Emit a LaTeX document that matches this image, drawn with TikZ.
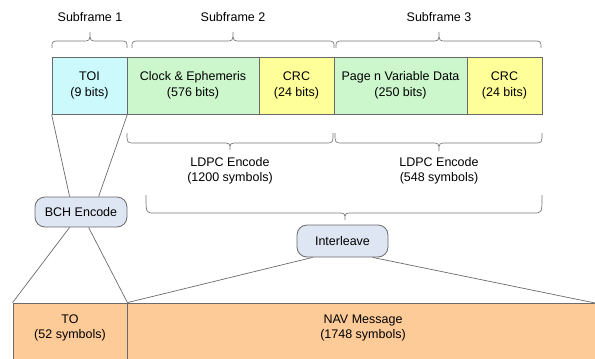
\documentclass[tikz,border=0pt]{standalone}
\usepackage{fontspec}
\setmainfont{Liberation Sans}
\definecolor{cyanf}{HTML}{CCFAFC}
\definecolor{greenf}{HTML}{CCF7CC}
\definecolor{yellowf}{HTML}{FFFF99}
\definecolor{orangef}{HTML}{FDCB98}
\definecolor{procfill}{HTML}{DFE6F3}
\definecolor{linegray}{HTML}{6A6A6A}
\definecolor{bracegray}{HTML}{777777}
\newcommand{\drawbrace}[6]{%
  \draw[bracestyle] (#1,#4) .. controls (#1,#5) .. (#1+8,#5) -- (#3-8,#5)
    .. controls (#3,#5) .. (#3,#6) .. controls (#3,#5) .. (#3+8,#5) -- (#2-8,#5)
    .. controls (#2,#5) .. (#2,#4);}
\begin{document}
\begin{tikzpicture}[x=1pt,y=-1pt,font=\fontsize{12.5}{15.5}\selectfont]
\tikzset{
  field/.style={draw=linegray, line width=0.8pt, minimum height=57pt, inner sep=0pt, align=center},
  bottombox/.style={draw=linegray, fill=orangef, line width=0.8pt, minimum height=64pt, inner sep=0pt},
  proc/.style={draw=linegray, fill=procfill, rounded corners=10pt, line width=0.8pt, inner sep=0pt, align=center},
  link/.style={draw=linegray, line width=0.7pt},
  bracestyle/.style={draw=bracegray, line width=0.7pt},
  lbl/.style={align=center, inner sep=0pt}
}
\useasboundingbox (0,0) rectangle (595,359);
\clip (0,0) rectangle (595,359);

% top fields
\node[field, fill=cyanf, minimum width=75pt] (toi) at (89.5,85.5) {TOI\\(9 bits)};
\node[field, fill=greenf, minimum width=132pt] (clk) at (193,85.5) {Clock \& Ephemeris\\(576 bits)};
\node[field, fill=yellowf, minimum width=75pt] (crc1) at (296.5,85.5) {CRC\\(24 bits)};
\node[field, fill=greenf, minimum width=133pt] (page) at (400.5,85.5) {Page n Variable Data\\(250 bits)};
\node[field, fill=yellowf, minimum width=75pt] (crc2) at (504.5,85.5) {CRC\\(24 bits)};

% subframe labels and braces
\node[lbl] (sf1) at (90,17) {Subframe 1};
\node[lbl] (sf2) at (233,17) {Subframe 2};
\node[lbl] (sf3) at (439,17) {Subframe 3};
\drawbrace{52}{127}{90}{48}{41}{32}
\drawbrace{132}{334}{233}{48}{41}{32}
\drawbrace{336}{541}{439}{48}{41}{32}

% LDPC braces
\drawbrace{127}{333}{230}{133}{143}{150}
\drawbrace{335}{542}{439}{133}{143}{151}
\node[lbl] (ldpc1) at (230,171) {LDPC Encode\\(1200 symbols)};
\node[lbl] (ldpc2) at (439,171) {LDPC Encode\\(548 symbols)};
\drawbrace{146}{542}{345}{195}{213}{220}

% process boxes
\node[proc, minimum width=92pt, minimum height=30pt] (bch) at (81,212) {BCH Encode};
\node[proc, minimum width=91pt, minimum height=32pt] (il) at (342.5,241) {Interleave};

% bottom boxes
\node[bottombox, minimum width=114pt] (to) at (70,335) {};
\node[bottombox, minimum width=493pt] (nav) at (373.5,335) {};
\node[lbl] (totxt) at (70,328) {TO\\(52 symbols)};
\node[lbl] (navtxt) at (363,328) {NAV Message\\(1748 symbols)};
\coordinate (navr) at (595,303);

% connectors
\draw[link] (toi.south west) -- ([xshift=35pt]bch.north west);
\draw[link] (toi.south east) -- ([xshift=64pt]bch.north west);
\draw[link] ([xshift=35pt]bch.south west) -- (to.north west);
\draw[link] ([xshift=54pt]bch.south west) -- (to.north east);
\draw[link] ([xshift=16pt]il.south west) -- (to.north east);
\draw[link] ([xshift=76pt]il.south west) -- (navr);
\end{tikzpicture}
\end{document}
